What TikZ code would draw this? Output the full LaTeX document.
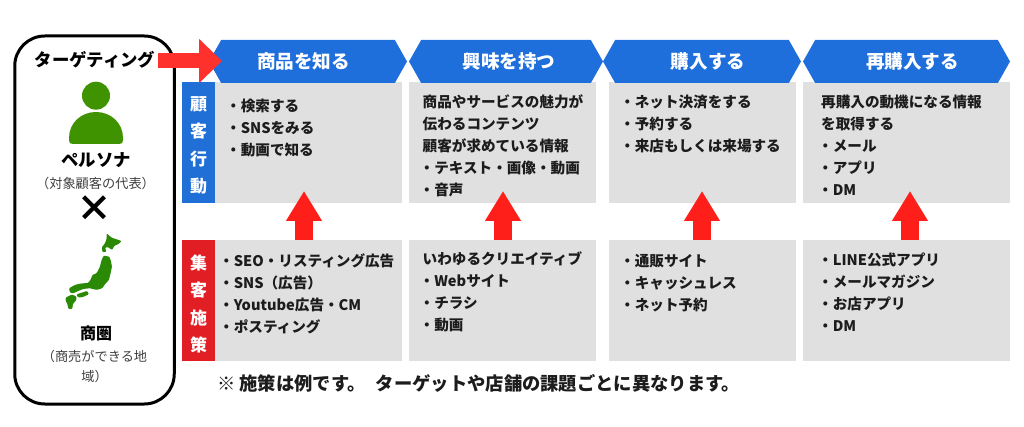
\documentclass[tikz,border=0pt]{standalone}
\usepackage{fontspec}
\usepackage{xcolor}
\setmainfont{Noto Sans CJK JP}
\usetikzlibrary{positioning,arrows.meta,shapes.symbols}

\definecolor{hdblue}{HTML}{1E6FDC}
\definecolor{sideblue}{HTML}{1F6FD6}
\definecolor{sidered}{HTML}{E01E24}
\definecolor{boxgray}{HTML}{E0E0E0}
\definecolor{arrowred}{HTML}{FF1F1A}
\definecolor{persongreen}{HTML}{3F9200}
\definecolor{mapgreen}{HTML}{2A8A05}
\definecolor{inktext}{HTML}{1C1C1C}

\newcommand{\lft}{\hspace*{-3pt}}

\tikzset{
  graybox/.style={fill=boxgray,inner sep=0pt,minimum height=121},
  sidebox/.style={inner sep=0pt,minimum width=33,minimum height=121},
  sidetext/.style={inner sep=0pt,text=white,align=center,
    font=\bfseries\fontsize{17}{27.3}\selectfont},
  headbox/.style={signal,signal to=west and east,signal pointer angle=121,fill=hdblue,
    inner sep=0pt,minimum height=43},
  headtext/.style={text=white,inner sep=0pt,font=\bfseries\fontsize{18.6}{22}\selectfont},
  listtext/.style={anchor=north west,inner sep=0pt,align=left,text=inktext,
    font=\bfseries\fontsize{14.6}{22}\selectfont},
  uparrow/.style={draw=arrowred,line width=18pt,-{Triangle[length=30pt,width=34pt]}},
  rightarrow/.style={draw=arrowred!92!white,line width=15pt,-{Triangle[length=23pt,width=43pt]}},
  paneltitle/.style={inner sep=0pt,text=black,font=\bfseries\fontsize{17.4}{20}\selectfont},
  panelnote/.style={inner sep=0pt,align=center,text=black!75,font=\fontsize{13.2}{20}\selectfont}
}

\begin{document}
\begin{tikzpicture}[x=1pt,y=-1pt]
  \useasboundingbox (0,0) rectangle (1024,427);

  % left panel
  \node[draw=black,line width=3pt,rounded corners=30pt,minimum width=159.5,minimum height=368,inner sep=0pt] (panel) at (94.5,220) {};
  \node[paneltitle] (target) at (95,59.5) {ターゲティング};
  \node[circle,fill=persongreen,minimum size=28,inner sep=0pt] (head) at (96,95.7) {};
  \fill[persongreen] (69,138) .. controls (69,123) and (81,112) .. (96,112)
    .. controls (111,112) and (123,123) .. (123,138) -- (123,140)
    .. controls (123,143) and (122,144) .. (119,144) -- (73,144)
    .. controls (70,144) and (69,143) .. (69,140) -- cycle;
  \node[paneltitle] (persona) at (96,160) {ペルソナ};
  \node[panelnote] (personanote) at (95.5,183) {（対象顧客の代表）};
  \node[inner sep=0pt,font=\bfseries\fontsize{36}{36}\selectfont] (times) at (94,209) {×};
  % map, coordinates read off a 3x crop
  \begin{scope}[shift={(55,225)},x=0.333pt,y=-0.333pt,rounded corners=1pt]
    \fill[mapgreen] (155,25) -- (170,38) -- (200,48) -- (190,58) -- (178,62) -- (172,75) -- (158,66) -- (150,68) -- (155,80) -- (143,82) -- (140,68) -- (150,55) -- (155,42) -- cycle;
    \fill[mapgreen] (146,92) -- (163,95) -- (168,108) -- (171,125) -- (167,145) -- (162,165) -- (150,178) -- (142,190) -- (125,195) -- (105,190) -- (85,192) -- (70,198) -- (55,205) -- (45,203) -- (42,190) -- (60,180) -- (75,176) -- (100,174) -- (108,162) -- (112,150) -- (125,145) -- (135,125) -- (140,105) -- cycle;
    \fill[mapgreen] (65,208) -- (97,198) -- (102,208) -- (82,217) -- (68,217) -- cycle;
    \fill[mapgreen] (32,218) -- (50,209) -- (64,214) -- (64,226) -- (54,236) -- (52,252) -- (40,252) -- (37,236) -- (32,228) -- cycle;
  \end{scope}
  \node[paneltitle,font=\bfseries\fontsize{16}{20}\selectfont] (area) at (96,333) {商圏};
  \node[panelnote] (areanote) at (94.5,366) {（商売ができる地\\域）};

  % gray boxes
  \node[graybox,minimum width=187] (act1) at (308.5,142.5) {};
  \node[graybox,minimum width=187] (act2) at (502.5,142.5) {};
  \node[graybox,minimum width=187] (act3) at (702.5,142.5) {};
  \node[graybox,minimum width=207] (act4) at (906.5,142.5) {};
  \node[graybox,minimum width=187] (mes1) at (308.5,300.5) {};
  \node[graybox,minimum width=187] (mes2) at (502.5,300.5) {};
  \node[graybox,minimum width=187] (mes3) at (702.5,300.5) {};
  \node[graybox,minimum width=207] (mes4) at (906.5,300.5) {};
  \node[sidebox,fill=sideblue] (sideact) at (198.5,142.5) {};
  \node[sidebox,fill=sidered] (sidemes) at (198.5,300.5) {};
  \node[sidetext] (sideacttext) at (198.5,145.5) {顧\\客\\行\\動};
  \node[sidetext] (sidemestext) at (198.5,304) {集\\客\\施\\策};

  % header
  \node[headbox,minimum width=198] (hd1) at (308,61.5) {};
  \node[headbox,minimum width=194] (hd2) at (506,61.5) {};
  \node[headbox,minimum width=198] (hd3) at (702,61.5) {};
  \node[headbox,minimum width=207] (hd4) at (906.5,61.5) {};
  \node[headtext] (hdt1) at (303.5,61) {商品を知る};
  \node[headtext] (hdt2) at (509,61) {興味を持つ};
  \node[headtext] (hdt3) at (708,61) {購入する};
  \node[headtext] (hdt4) at (912.5,61) {再購入する};

  % lists
  \node[listtext] (acttext1) at (226,99) {・検索する\\・SNSをみる\\・動画で知る};
  \node[listtext] (acttext2) at (422.5,94) {商品やサービスの魅力が\\伝わるコンテンツ\\顧客が求めている情報\\\lft・テキスト・画像・動画\\\lft・音声};
  \node[listtext] (acttext3) at (620,95) {・ネット決済をする\\・予約する\\・来店もしくは来場する};
  \node[listtext] (acttext4) at (821,94.5) {再購入の動機になる情報\\を取得する\\\lft・メール\\\lft・アプリ\\\lft・DM};
  \node[listtext] (mestext1) at (219,253) {・SEO・リスティング広告\\・SNS（広告）\\・Youtube広告・CM\\・ポスティング};
  \node[listtext] (mestext2) at (422.5,252) {いわゆるクリエイティブ\\\lft・Webサイト\\\lft・チラシ\\\lft・動画};
  \node[listtext] (mestext3) at (620,254) {・通販サイト\\・キャッシュレス\\・ネット予約};
  \node[listtext] (mestext4) at (818,253) {・LINE公式アプリ\\・メールマガジン\\・お店アプリ\\・DM};

  % arrows
  \coordinate (tail0) at (158,61);
  \coordinate (tip0) at (222,61);
  \coordinate (tip1) at (304,191);
  \coordinate (tip2) at (503,191);
  \coordinate (tip3) at (702,191);
  \coordinate (tip4) at (910,191);
  \draw[rightarrow] (tail0) -- (tip0);
  \draw[uparrow] (mes1.north -| tip1) -- (tip1);
  \draw[uparrow] (mes2.north -| tip2) -- (tip2);
  \draw[uparrow] (mes3.north -| tip3) -- (tip3);
  \draw[uparrow] (mes4.north -| tip4) -- (tip4);

  \node[anchor=west,inner sep=0pt,text=inktext,font=\bfseries\fontsize{18.3}{22}\selectfont] (note) at (217,383) {※ 施策は例です。\hspace{10pt}ターゲットや店舗の課題ごとに異なります。};
\end{tikzpicture}
\end{document}
